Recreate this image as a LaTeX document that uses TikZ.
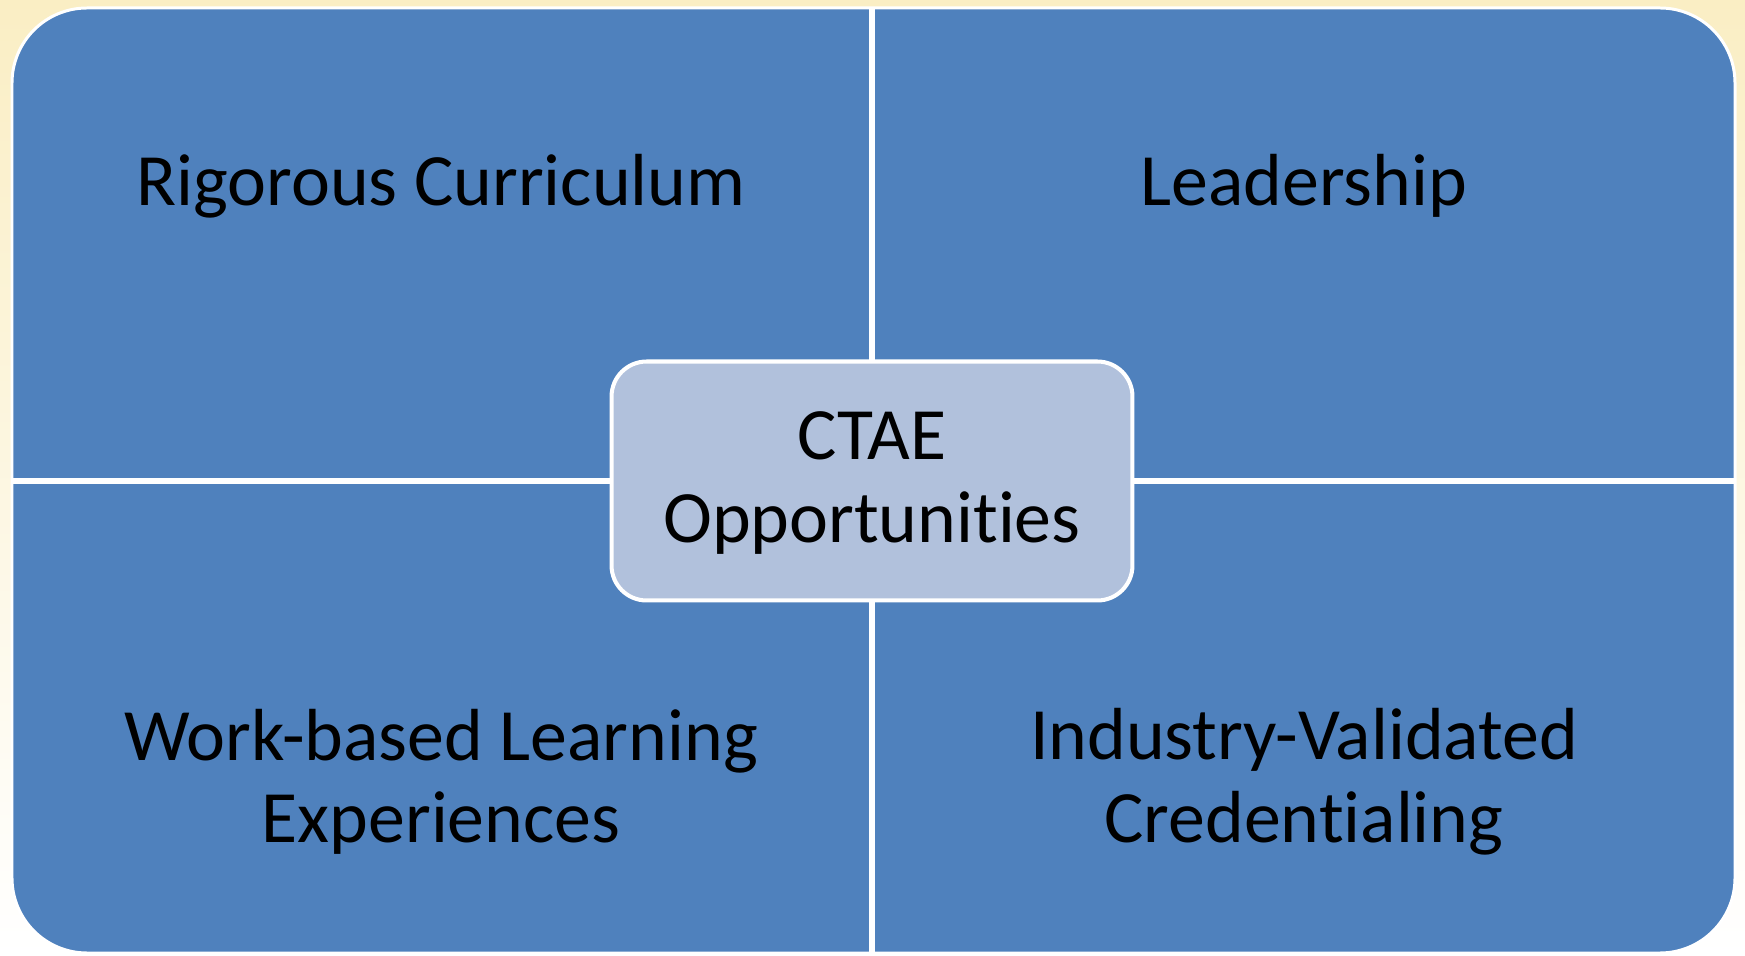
\documentclass[tikz,border=0pt]{standalone}
\usepackage{fontspec}
\setmainfont[Ligatures=NoCommon]{Carlito}
\definecolor{quadblue}{HTML}{4F81BD}
\definecolor{hubblue}{HTML}{B1C1DC}
\definecolor{paper}{HTML}{FAEEC4}
\begin{document}
\begin{tikzpicture}[x=0.02cm, y=-0.02cm]

\tikzstyle{every node}=[font=\fontsize{42}{47}\selectfont, text=black, align=center, inner sep=0pt]
\tikzstyle{hub} = [rectangle, draw=white, fill=hubblue, line width=2.3pt, rounded corners=0.7cm, minimum width=10.42cm, minimum height=4.78cm]
\tikzstyle{divider} = [white, line width=3.2pt]

% Hintergrund
\shade[top color=paper, bottom color=white] (0,0) rectangle (1745,955);
\draw[fill=quadblue, draw=white, line width=1.7pt, rounded corners=1.5cm] (12,8) rectangle (1735,953);

% Trennlinien
\coordinate (top) at (872,8);
\coordinate (bottom) at (872,953);
\coordinate (left) at (12,481);
\coordinate (right) at (1735,481);
\draw[divider] (top) -- (bottom);
\draw[divider] (left) -- (right);

% Nodos
\node[anchor=base] (curriculum) at (441,206) {Rigorous Curriculum};
\node[anchor=base] (leadership) at (1304,206) {Leadership};
\node (workbased) at (441,782) {Work-based Learning\\Experiences};
\node (credential) at (1304,782) {Industry-Validated\\Credentialing};
\node[hub] (ctae) at (872,481) {\raisebox{-2pt}[\height][\depth]{\begin{tabular}{@{}c@{}}CTAE\\Opportunities\end{tabular}}};

\end{tikzpicture}
\end{document}
